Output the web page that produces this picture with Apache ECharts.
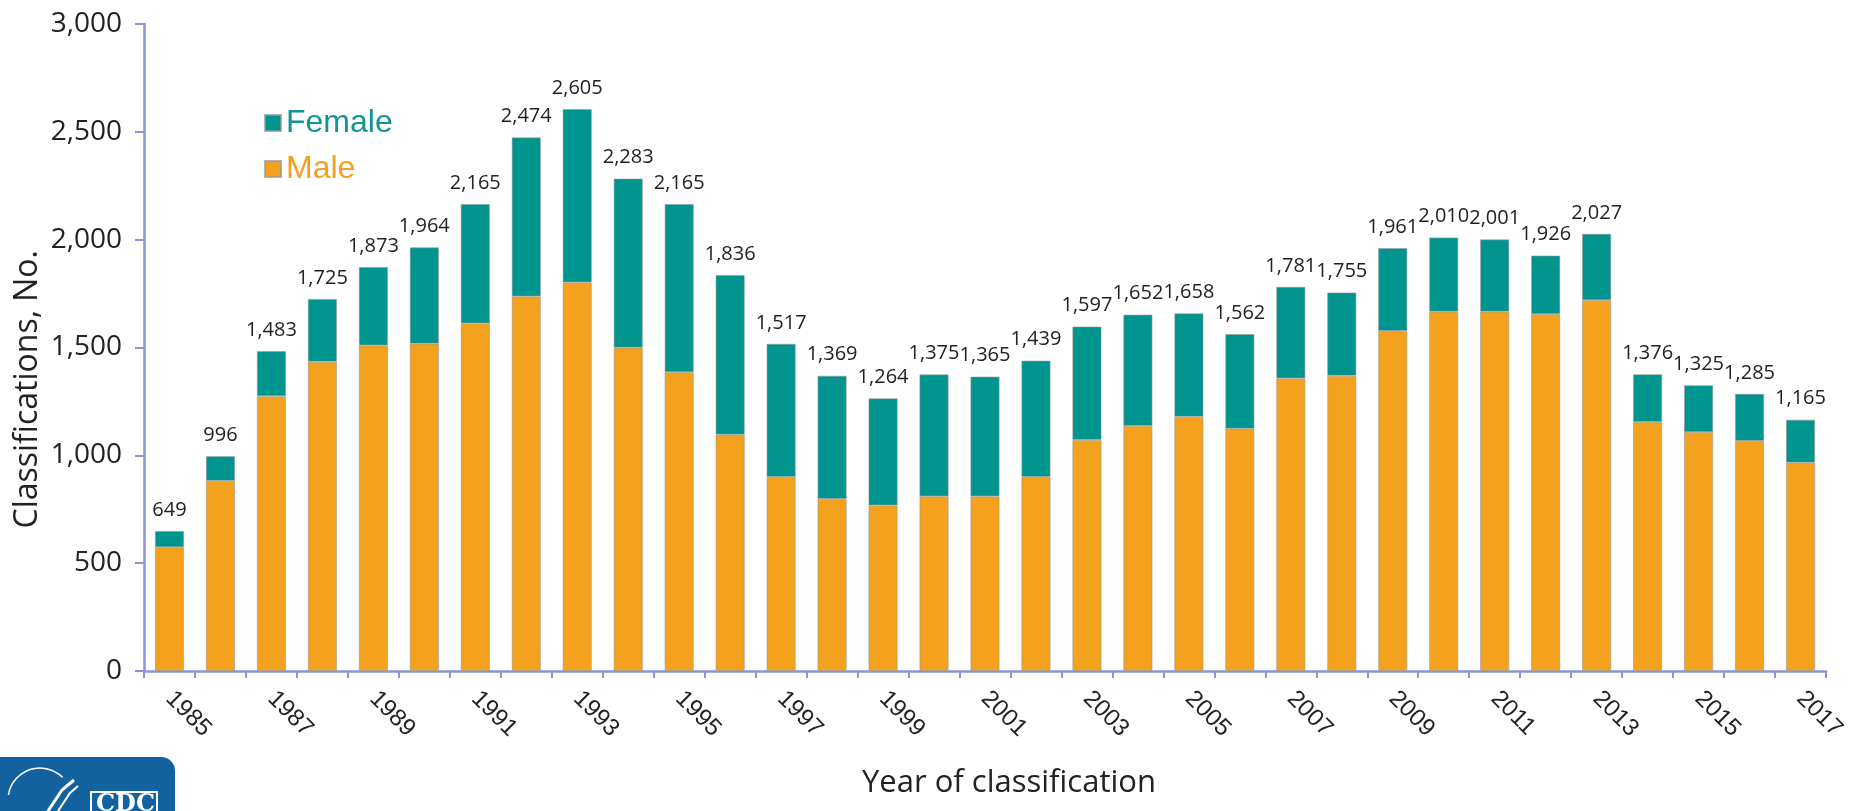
<!DOCTYPE html>
<html>
<head>
<meta charset="utf-8">
<script src="https://cdn.jsdelivr.net/npm/echarts@6/dist/echarts.min.js"></script>
<style>
html,body{margin:0;padding:0;background:#fff;}
#chart{width:1864px;height:811px;}
</style>
</head>
<body>
<div id="chart"></div>
<script>
const years = ['1985','1986','1987','1988','1989','1990','1991','1992','1993','1994','1995','1996','1997','1998','1999','2000','2001','2002','2003','2004','2005','2006','2007','2008','2009','2010','2011','2012','2013','2014','2015','2016','2017'];
const totals = [649,996,1483,1725,1873,1964,2165,2474,2605,2283,2165,1836,1517,1369,1264,1375,1365,1439,1597,1652,1658,1562,1781,1755,1961,2010,2001,1926,2027,1376,1325,1285,1165];
const male = [574,882,1274,1434,1510,1518,1612,1737,1802,1499,1386,1096,900,798,768,810,810,900,1071,1137,1179,1124,1357,1369,1577,1666,1666,1655,1720,1155,1108,1067,966];
const female = totals.map((t, i) => t - male[i]);
const yTicks = [0, 500, 1000, 1500, 2000, 2500, 3000];

const AXIS = '#8a94d6';
const TEAL = '#00948f';
const ORANGE = '#f4a11d';

const chart = echarts.init(document.getElementById('chart'));
chart.setOption({
  animation: false,
  backgroundColor: '#ffffff',
  grid: { left: 144, right: 38, top: 24, bottom: 140, containLabel: false },
  legend: {
    orient: 'vertical',
    left: 259,
    top: 102,
    icon: 'rect',
    itemWidth: 16,
    itemHeight: 16,
    itemGap: 14,
    textStyle: { fontFamily: 'Liberation Sans, Arial, sans-serif', fontSize: 32, lineHeight: 32 },
    data: [
      { name: 'Female', textStyle: { color: '#129590' } },
      { name: 'Male', textStyle: { color: '#f3a020' } }
    ]
  },
  xAxis: {
    type: 'category',
    data: years,
    boundaryGap: true,
    axisLine: { show: true, lineStyle: { color: AXIS, width: 2.5 } },
    axisTick: { show: true, interval: 0, length: 7, lineStyle: { color: AXIS, width: 2 } },
    axisLabel: {
      interval: 1,
      rotate: -45,
      margin: 24,
      color: '#222',
      fontFamily: 'Liberation Sans, Arial, sans-serif',
      fontSize: 24
    },
    splitLine: { show: false }
  },
  yAxis: {
    type: 'value',
    min: yTicks[0],
    max: yTicks[yTicks.length - 1],
    interval: 500,
    axisLine: { show: true, lineStyle: { color: AXIS, width: 2.5 } },
    axisTick: { show: true, length: 9, lineStyle: { color: AXIS, width: 2 } },
    axisLabel: {
      margin: 22,
      color: '#222',
      fontFamily: 'Open Sans, sans-serif',
      fontSize: 28,
      formatter: v => v.toLocaleString('en-US')
    },
    splitLine: { show: false }
  },
  series: [
    {
      name: 'Male',
      type: 'bar',
      stack: 'total',
      barWidth: '57%',
      data: male,
      itemStyle: { color: ORANGE, borderColor: 'rgba(150,150,150,0.7)', borderWidth: 0.8 }
    },
    {
      name: 'Female',
      type: 'bar',
      stack: 'total',
      barWidth: '57%',
      data: female,
      itemStyle: { color: TEAL, borderColor: 'rgba(150,150,150,0.7)', borderWidth: 0.8 },
      label: {
        show: true,
        position: 'top',
        distance: 11,
        color: '#222',
        fontFamily: 'Open Sans, sans-serif',
        fontSize: 20,
        formatter: p => totals[p.dataIndex].toLocaleString('en-US')
      }
    }
  ],
  graphic: [
    {
      type: 'text',
      left: 12, top: 250,
      style: {
        text: 'Classifications, No.',
        fontFamily: 'Open Sans, sans-serif',
        fontSize: 32,
        fill: '#222'
      },
      rotation: Math.PI / 2
    },
    {
      type: 'text',
      left: 862, top: 768,
      style: {
        text: 'Year of classification',
        fontFamily: 'Open Sans, sans-serif',
        fontSize: 31,
        fill: '#222'
      }
    },
    {
      type: 'rect',
      shape: { x: -20, y: 757, width: 195, height: 80, r: 14 },
      style: { fill: '#1262a0' }
    },
    {
      type: 'rect',
      shape: { x: 91, y: 792, width: 66, height: 30 },
      style: { fill: 'none', stroke: '#ffffff', lineWidth: 2 }
    },
    {
      type: 'text',
      x: 96, y: 793,
      style: { text: 'CDC', fontFamily: 'DejaVu Serif, serif', fontWeight: 'bold', fontSize: 24, fill: '#ffffff' }
    },
    {
      type: 'arc',
      shape: { cx: 40, cy: 800, r: 32, startAngle: Math.PI * 1.05, endAngle: Math.PI * 1.75 },
      style: { stroke: '#ffffff', lineWidth: 1.5, fill: 'none' }
    },
    {
      type: 'polyline',
      shape: { points: [[48, 811], [62, 790], [74, 780]] },
      style: { stroke: '#ffffff', lineWidth: 3, fill: 'none' }
    },
    {
      type: 'polyline',
      shape: { points: [[58, 811], [70, 793], [78, 786]] },
      style: { stroke: '#ffffff', lineWidth: 2, fill: 'none' }
    }
  ]
});
</script>
</body>
</html>
